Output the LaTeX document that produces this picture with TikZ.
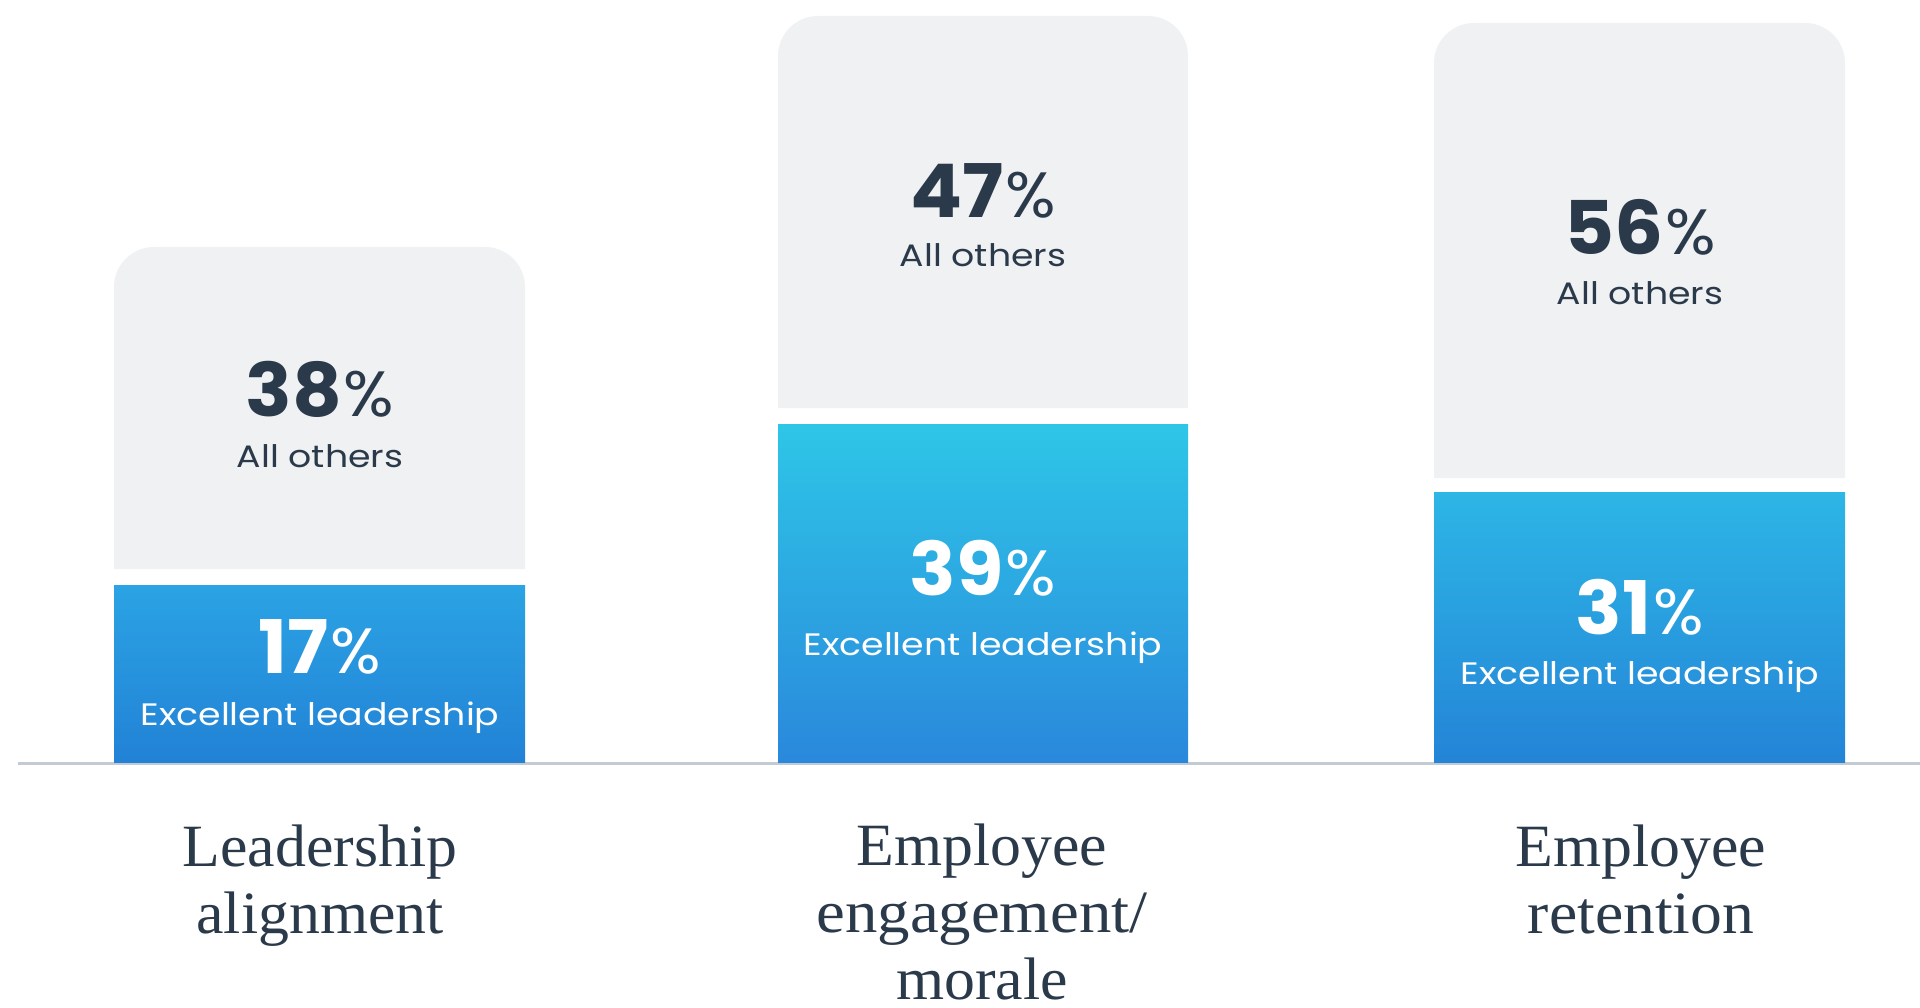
\documentclass[tikz,border=0pt]{standalone}
\usepackage{fontspec}
\setmainfont{Poppins}
\newfontfamily\labfont{Liberation Serif}
\definecolor{gbar}{HTML}{F0F1F3}
\definecolor{ink}{HTML}{2B3A4A}
\definecolor{axisc}{HTML}{C3CAD2}
\definecolor{bluetopA}{HTML}{2BA3E4}
\definecolor{bluebotA}{HTML}{2282D6}
\definecolor{bluetopB}{HTML}{2EC6E7}
\definecolor{bluebotB}{HTML}{2A88DC}
\definecolor{bluetopC}{HTML}{2DB6E6}
\definecolor{bluebotC}{HTML}{2484D7}
\begin{document}
\begin{tikzpicture}[x=1pt,y=-1pt,
  pct/.style={text=ink, anchor=base, inner sep=0pt},
  pctw/.style={text=white, anchor=base, inner sep=0pt},
  sub/.style={text=ink, anchor=base, inner sep=0pt, font=\fontsize{31}{31}\selectfont},
  subw/.style={text=white, anchor=base, inner sep=0pt, font=\fontsize{31}{31}\selectfont},
  cat/.style={text=ink, anchor=base, inner sep=0pt, align=center,
              font=\labfont\fontsize{60}{67}\selectfont}]
\newcommand\pctxt[1]{\scalebox{1.04}[1]{{\fontsize{74}{74}\selectfont\bfseries #1}\hspace{2pt}{\fontsize{64}{64}\selectfont\%}}}
\newcommand\widetxt[1]{\scalebox{1.17}[1]{#1}}
\newcommand\labw[1]{\scalebox{1.03}[1]{#1}}
\useasboundingbox (0,0) rectangle (1920,1008);
\fill[white] (0,0) rectangle (1920,1008);
% axis
\draw[axisc, line width=3pt] (18,763) -- (1920,763);
% bar 1
\fill[gbar] (114,569) [rounded corners=40pt] -- (114,247) -- (525,247) [sharp corners] -- (525,569) -- cycle;
\shade[top color=bluetopA, bottom color=bluebotA] (114,585) rectangle (525,762);
% bar 2
\fill[gbar] (778,408) [rounded corners=40pt] -- (778,16) -- (1188,16) [sharp corners] -- (1188,408) -- cycle;
\shade[top color=bluetopB, bottom color=bluebotB] (778,424) rectangle (1188,762);
% bar 3
\fill[gbar] (1434,478) [rounded corners=40pt] -- (1434,23) -- (1845,23) [sharp corners] -- (1845,478) -- cycle;
\shade[top color=bluetopC, bottom color=bluebotC] (1434,492) rectangle (1845,762);
% texts bar 1
\node[pct] (p1a) at (320,416) {\pctxt{38}};
\node[sub] (s1a) at (320,467) {\widetxt{All others}};
\node[pctw] (p1b) at (320,673) {\pctxt{17}};
\node[subw] (s1b) at (320,725) {\widetxt{Excellent leadership}};
% texts bar 2
\node[pct] (p2a) at (983,218) {\pctxt{47}};
\node[sub] (s2a) at (983,267) {\widetxt{All others}};
\node[pctw] (p2b) at (983,595) {\pctxt{39}};
\node[subw] (s2b) at (983,655) {\widetxt{Excellent leadership}};
% texts bar 3
\node[pct] (p3a) at (1640,255) {\pctxt{56}};
\node[sub] (s3a) at (1640,305) {\widetxt{All others}};
\node[pctw] (p3b) at (1640,634) {\pctxt{31}};
\node[subw] (s3b) at (1640,684) {\widetxt{Excellent leadership}};
% category labels (base anchor = last line)
\node[cat] (c1) at (320,933) {\labw{Leadership}\\\labw{alignment}};
\node[cat] (c2) at (982,999) {\labw{Employee}\\\scalebox{1.08}[1]{engagement/}\\\labw{morale}};
\node[cat] (c3) at (1641,933) {\labw{Employee}\\\scalebox{1.06}[1]{retention}};
\end{tikzpicture}
\end{document}
